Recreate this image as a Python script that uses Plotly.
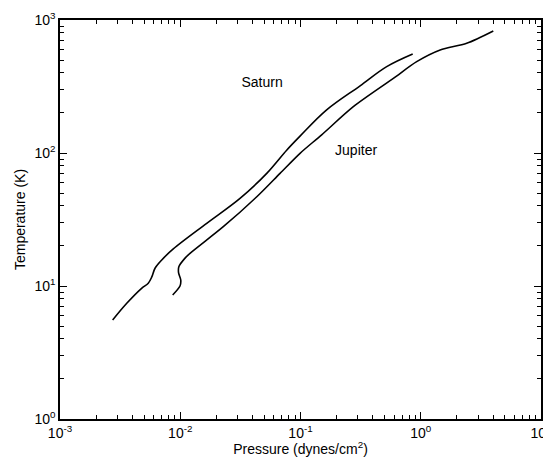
import plotly.graph_objects as go

# Left curve (upper-left, labelled Saturn)
sat_p = [0.00274, 0.00359, 0.00477, 0.00542, 0.00580, 0.00617, 0.00702, 0.00875,
         0.0166, 0.0314, 0.0524, 0.0767, 0.0991, 0.165, 0.313, 0.521, 0.857]
sat_T = [5.55, 7.41, 9.61, 10.5, 11.7, 13.6, 15.7, 19.0,
         29.6, 45.6, 70.3, 105, 134, 211, 320, 446, 555]

# Right curve (labelled Jupiter)
jup_p = [0.00865, 0.00995, 0.0101, 0.00968, 0.00975, 0.01096, 0.01205, 0.0228,
         0.0433, 0.0676, 0.0991, 0.150, 0.275, 0.592, 0.925, 1.45, 2.41, 4.01]
jup_T = [8.56, 10.0, 11.1, 12.6, 14.0, 16.2, 17.6, 27.9,
         46.9, 70.3, 99.5, 137, 223, 364, 486, 595, 668, 827]

labels = ["Saturn", "Jupiter"]
label_p = [0.0479, 0.290]
label_T = [336, 102]

x_tickvals = [1e-3, 1e-2, 1e-1, 1e0, 1e1]
x_ticktext = ["10<sup>-3</sup>", "10<sup>-2</sup>", "10<sup>-1</sup>", "10<sup>0</sup>", "10<sup>1</sup>"]
y_tickvals = [1, 10, 100, 1000]
y_ticktext = ["10<sup>0</sup>", "10<sup>1</sup>", "10<sup>2</sup>", "10<sup>3</sup>"]
minor_mult = [2, 3, 4, 5, 6, 7, 8, 9]

x_minor = [m * d for d in x_tickvals[:-1] for m in minor_mult]
y_minor = [m * d for d in y_tickvals[:-1] for m in minor_mult]

FONT = "Liberation Sans, Arial, Helvetica"

fig = go.Figure()
fig.add_trace(go.Scatter(x=sat_p, y=sat_T, mode="lines",
                         line=dict(color="black", width=1.6, shape="spline", smoothing=1.0),
                         showlegend=False, hoverinfo="skip"))
fig.add_trace(go.Scatter(x=jup_p, y=jup_T, mode="lines",
                         line=dict(color="black", width=1.6, shape="spline", smoothing=0.8),
                         showlegend=False, hoverinfo="skip"))
fig.add_trace(go.Scatter(x=label_p, y=label_T, mode="text", text=labels,
                         textfont=dict(family=FONT, size=14, color="black"),
                         showlegend=False, hoverinfo="skip"))

axis_common = dict(
    type="log", showgrid=False, zeroline=False, automargin=False,
    showline=True, linecolor="black", linewidth=1.5, mirror="allticks",
    ticks="inside", ticklen=7, tickcolor="black", tickwidth=1,
    ticklabeloverflow="allow",
    tickfont=dict(family=FONT, size=14, color="black"),
)

fig.update_xaxes(**axis_common, range=[-3, 1], tickvals=x_tickvals, ticktext=x_ticktext,
                 minor=dict(tickmode="array", tickvals=x_minor, ticks="inside", ticklen=4,
                            tickcolor="black", tickwidth=1, showgrid=False),
                 title=dict(text="Pressure (dynes/cm<sup>2</sup>)", standoff=2,
                            font=dict(family=FONT, size=14, color="black")))
fig.update_yaxes(**axis_common, range=[0, 3], tickvals=y_tickvals, ticktext=y_ticktext,
                 minor=dict(tickmode="array", tickvals=y_minor, ticks="inside", ticklen=4,
                            tickcolor="black", tickwidth=1, showgrid=False),
                 title=dict(text="Temperature (K)", standoff=6,
                            font=dict(family=FONT, size=14, color="black")))

fig.update_layout(width=543, height=449, margin=dict(l=52, r=10, t=12, b=38),
                  plot_bgcolor="white", paper_bgcolor="white")
fig.write_html("out.html")
